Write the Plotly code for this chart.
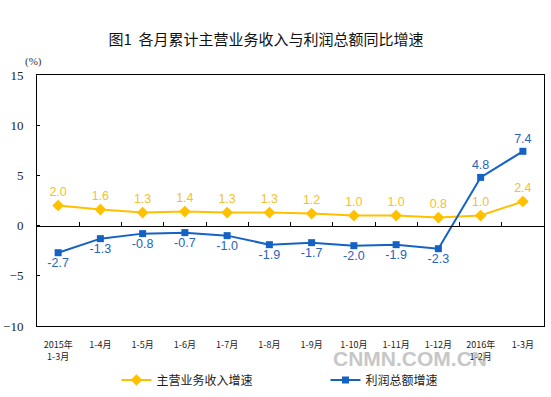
import plotly.graph_objects as go

categories = ["2015年<br>1-3月", "1-4月", "1-5月", "1-6月", "1-7月", "1-8月", "1-9月",
              "1-10月", "1-11月", "1-12月", "2016年<br>1-2月", "1-3月"]
income = [2.0, 1.6, 1.3, 1.4, 1.3, 1.3, 1.2, 1.0, 1.0, 0.8, 1.0, 2.4]
profit = [-2.7, -1.3, -0.8, -0.7, -1.0, -1.9, -1.7, -2.0, -1.9, -2.3, 4.8, 7.4]
y_ticks = [-10, -5, 0, 5, 10, 15]

YEL = "#FFC000"
YEL_T = "#F2C12E"
BLU = "#1462C4"
BLU_T = "#2A62B8"

n = len(categories)
boundaries = [i + 0.5 for i in range(n - 1)]

fig = go.Figure()
fig.add_trace(go.Scatter(
    x=categories, y=income, name="主营业务收入增速", mode="lines+markers+text",
    line=dict(color=YEL, width=2), marker=dict(symbol="diamond", size=9, color=YEL),
    text=[f"{v:.1f}" for v in income], textposition="top center",
    textfont=dict(color=YEL_T, size=12.5, family="Liberation Sans"),
))
fig.add_trace(go.Scatter(
    x=categories, y=profit, name="利润总额增速", mode="lines+markers+text",
    line=dict(color=BLU, width=2), marker=dict(symbol="square", size=7, color=BLU),
    text=[f"{v:.1f}" for v in profit],
    textposition=["bottom center" if v < 0 else "top center" for v in profit],
    textfont=dict(color=BLU_T, size=12.5, family="Liberation Sans"),
))
# helper trace so the zero-line axis (xaxis2) is drawn
fig.add_trace(go.Scatter(x=[0, n - 1], y=[None, None], xaxis="x2",
                         showlegend=False, hoverinfo="skip"))

fig.update_layout(
    width=551, height=397,
    margin=dict(l=37, r=7, t=75, b=71, autoexpand=False),
    paper_bgcolor="white", plot_bgcolor="white",
    font=dict(family="Noto Sans CJK SC", size=10, color="#222"),
    title=dict(text="图1  各月累计主营业务收入与利润总额同比增速", x=266 / 551, xanchor="center",
               y=1 - 40 / 397, yanchor="middle",
               font=dict(size=15, color="#111", family="Noto Sans CJK SC")),
    xaxis=dict(type="category", categoryarray=categories, showgrid=False,
               showline=True, linecolor="black", linewidth=1, mirror=True,
               ticks="", tickfont=dict(size=9, family="Noto Sans CJK SC", color="#222"),
               ticklabelstandoff=10, range=[-0.5, n - 0.5]),
    xaxis2=dict(type="linear", overlaying="x", anchor="free", position=0.4, side="bottom",
                range=[-0.5, n - 0.5], showgrid=False, zeroline=False,
                showline=True, linecolor="black", linewidth=1,
                ticks="inside", ticklen=4, tickcolor="black", tickwidth=1,
                tickvals=boundaries, showticklabels=False),
    yaxis=dict(range=[-10, 15], tickvals=y_ticks, showgrid=False, zeroline=False,
               showline=True, linecolor="black", linewidth=1, mirror=True,
               ticks="inside", ticklen=3, tickcolor="black", ticklabelstandoff=10,
               tickfont=dict(size=13, family="Liberation Serif", color="#222")),
    legend=dict(orientation="h", x=0.569, xanchor="center", yref="container",
                y=(397 - 380) / 397, yanchor="middle", bgcolor="rgba(0,0,0,0)",
                font=dict(size=12, family="Noto Sans CJK SC", color="#222"),
                itemwidth=30, entrywidth=164, entrywidthmode="pixels"),
    showlegend=True,
)
fig.add_annotation(text="(%)", xref="paper", yref="paper", x=-0.006, y=(326 - 70) / 251,
                   xanchor="center", yanchor="bottom",
                   showarrow=False, font=dict(size=11, family="Liberation Serif", color="#333"))
fig.add_annotation(text="<b>CNMN.COM.CN</b>", xref="paper", yref="paper", x=0.736, y=-0.128,
                   xanchor="center", yanchor="middle", showarrow=False, opacity=0.55,
                   font=dict(size=21, family="Liberation Sans", color="#9a9a9a"))
fig.write_html("out.html", config={"displayModeBar": False},
               post_script="document.body.style.margin='0';")
